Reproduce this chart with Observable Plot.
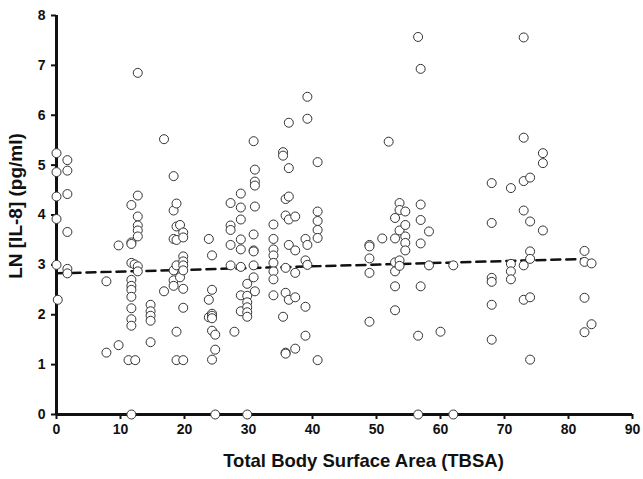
<!DOCTYPE html>
<html><head><meta charset="utf-8">
<script src="https://cdn.jsdelivr.net/npm/d3@7"></script>
<script src="https://cdn.jsdelivr.net/npm/@observablehq/plot@0.6"></script>
<style>
body{margin:0;background:#fff}
</style>
</head><body><div id="chart"></div>
<script>
// Total Body Surface Area (%) for each patient
const tbsa = [
  0,0,0,0,0,0.2,
  1.7,1.7,1.7,1.7,1.7,1.7,
  7.8,7.8, 9.7,9.7, 11.25,12.3,
  11.7,11.7,11.7,11.7,11.7,11.7,11.7,11.7,11.7,11.7,11.7,11.7,
  12.2,
  12.7,12.7,12.7,12.7,12.7,12.7,12.7,12.7,
  14.7,14.7,14.7,14.7,14.7,
  16.8,16.8,
  18.3,18.3,18.3,18.3,18.3,18.3,
  18.75,18.75,18.75,18.75,18.75,18.75,
  19.3,19.3,
  19.8,19.8,19.8,19.8,19.8,19.8,19.8,19.8,19.8,
  23.8,23.8,23.8,
  24.3,24.3,24.3,24.3,24.3,24.3,24.3,
  24.8,24.8,24.8,
  27.2,27.2,27.2,27.2,27.2, 27.8,
  28.8,28.8,28.8,28.8,28.8,28.8,28.8,28.8,
  29.8,29.8,29.8,29.8,29.8,29.8,29.8,
  30.8,30.8,30.8,30.8,30.8,30.8,
  31.0,31.0,31.0,31.0,31.0,
  33.9,33.9,33.9,33.9,33.9,33.9,33.9,33.9,
  35.4,35.4,35.4,
  35.8,35.8,35.8,35.8,35.8,35.8,
  36.3,36.3,36.3,36.3,36.3,36.3,
  37.3,37.3,37.3,37.3,37.3,
  38.9,38.9,38.9,38.9,
  39.2,39.2,39.2,39.2,
  40.8,40.8,40.8,40.8,40.8,40.8,
  48.9,48.9,48.9,48.9,48.9,
  50.9, 51.9,
  52.9,52.9,52.9,52.9,52.9,52.9,
  53.6,53.6,53.6,53.6,53.6,
  54.5,54.5,54.5,54.5,54.5,
  56.5,56.5,56.5,
  56.9,56.9,56.9,56.9,56.9,
  58.2,58.2, 60.0, 62.0,62.0,
  68,68,68,68,68,68,
  71,71,71,71,
  73,73,73,73,73,73,
  74,74,74,74,74,74,
  76,76,76,
  82.5,82.5,82.5,82.5,
  83.6,83.6
];
// LN [IL-8] (pg/ml) for each patient, same order
const lnIL8 = [
  5.24,4.86,4.37,3.92,3.0,2.30,
  5.1,4.89,4.42,3.66,2.92,2.83,
  2.67,1.24, 3.39,1.39, 1.09,1.09,
  4.2,3.45,3.42,3.04,2.70,2.58,2.50,2.36,2.13,1.91,1.78,0,
  3.01,
  6.85,4.39,3.97,3.79,3.69,3.57,2.97,2.87,
  2.20,2.07,1.98,1.88,1.45,
  5.52,2.47,
  4.78,4.09,3.52,2.89,2.69,2.58,
  4.23,3.77,3.50,2.99,1.66,1.09,
  3.80,2.75,
  3.65,3.55,3.17,3.07,2.99,2.89,2.52,2.14,1.09,
  3.52,2.30,1.95,
  3.19,2.50,2.02,1.98,1.93,1.68,1.10,
  1.60,1.30,0,
  4.24,3.79,3.70,3.40,2.99, 1.66,
  4.43,4.15,3.91,3.51,3.31,2.96,2.39,2.07,
  2.62,2.38,2.25,2.15,2.05,1.96,0,
  5.48,3.61,3.29,3.27,2.99,2.75,
  4.91,4.67,4.59,4.17,2.47,
  3.81,3.52,3.31,3.19,3.04,2.87,2.71,2.39,
  5.26,5.19,1.96,
  4.32,3.99,2.94,2.44,1.24,1.22,
  5.85,4.94,4.37,3.91,3.40,2.30,
  3.97,3.29,2.84,2.35,1.32,
  3.52,3.09,2.16,1.58,
  6.37,5.93,3.40,3.00,
  5.06,4.07,3.88,3.70,3.54,1.09,
  3.40,3.37,3.13,2.84,1.86,
  3.53, 5.47,
  3.94,3.53,3.05,2.87,2.57,2.09,
  4.24,4.10,3.69,3.09,2.98,
  4.07,3.80,3.57,3.44,3.29,
  7.57,1.58,0,
  6.93,4.21,3.90,3.43,2.57,
  3.67,2.99, 1.66, 2.99,0,
  4.64,3.84,2.74,2.66,2.20,1.50,
  4.54,3.02,2.87,2.71,
  7.56,5.55,4.68,4.09,2.99,2.30,
  4.75,3.87,3.27,3.12,2.35,1.10,
  5.24,5.04,3.69,
  3.28,3.06,2.34,1.65,
  3.03,1.81
];
// Fitted trend line
const trendX = [0, 82.5];
const trendY = [2.83, 3.12];
const xTicks = [0,10,20,30,40,50,60,70,80,90];
const yTicks = [0,1,2,3,4,5,6,7,8];
const xTitle = "Total Body Surface Area (TBSA)";
const yTitle = "LN [IL-8] (pg/ml)";

const points = tbsa.map((x, i) => ({x, y: lnIL8[i]}));
const trend = trendX.map((x, i) => ({x, y: trendY[i]}));

const chart = Plot.plot({
  width: 643, height: 479,
  marginLeft: 56, marginRight: 11, marginTop: 15, marginBottom: 65,
  style: {fontFamily: "'Liberation Sans', Arial, sans-serif", color: "#111", background: "#fff"},
  x: {domain: [0, 90]},
  y: {domain: [0, 8]},
  marks: [
    Plot.axisY({ticks: yTicks, tickSize: 5, tickPadding: 6, strokeWidth: 2, label: null}),
    Plot.axisX({ticks: xTicks, tickSize: 5, tickPadding: 5, strokeWidth: 2, label: null}),
    Plot.ruleX([0], {strokeWidth: 3, stroke: "#111"}),
    Plot.ruleY([0], {strokeWidth: 3, stroke: "#111"}),
    Plot.line(trend, {x: "x", y: "y", stroke: "#111", strokeWidth: 2.5, strokeDasharray: "9,6"}),
    Plot.dot(points, {x: "x", y: "y", r: 4.5, fill: "white", stroke: "#333", strokeWidth: 1}),
    Plot.text([xTitle], {frameAnchor: "bottom", textAnchor: "middle", dx: 19, dy: 52, fontSize: 18.5, fontWeight: "bold", fill: "#111"}),
    Plot.text([yTitle], {frameAnchor: "left", textAnchor: "middle", rotate: -90, dx: -41, dy: -9, fontSize: 19, fontWeight: "bold", fill: "#111"})
  ]
});
// tick labels: bold, 14px, applied inline to every text of the axis groups
const svg = d3.select(chart);
svg.selectAll("g").filter(function() {
  const a = this.getAttribute("aria-label") || "";
  return a.indexOf("axis") >= 0;
}).selectAll("text")
  .attr("font-size", 14).attr("font-weight", "bold")
  .style("font-size", "14px").style("font-weight", "700").style("fill", "#111");
document.getElementById("chart").appendChild(chart);
</script>
</body></html>
